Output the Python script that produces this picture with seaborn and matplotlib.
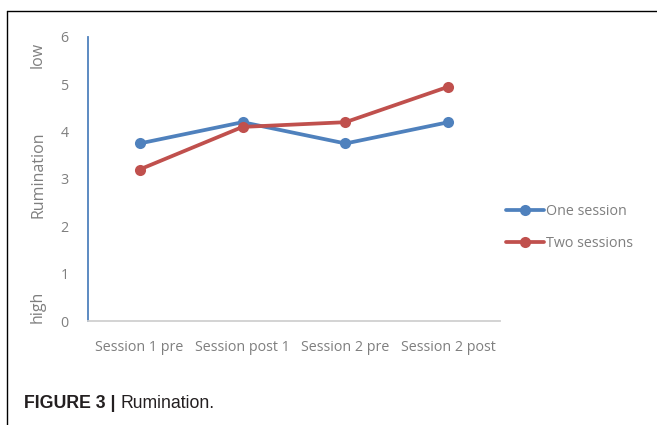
import matplotlib
matplotlib.use("Agg")
import matplotlib.pyplot as plt
from matplotlib.lines import Line2D
import seaborn as sns
import pandas as pd

sessions = ["Session 1 pre", "Session post 1", "Session 2 pre", "Session 2 post"]
one_session = [3.75, 4.2, 3.75, 4.2]
two_sessions = [3.2, 4.1, 4.2, 4.95]
y_ticks = [0, 1, 2, 3, 4, 5, 6]

df = pd.DataFrame({
    "session": sessions * 2,
    "score": one_session + two_sessions,
    "group": ["One session"] * len(sessions) + ["Two sessions"] * len(sessions),
})

sns.set_style("white")
plt.rcParams["font.family"] = ["Open Sans", "DejaVu Sans"]

BLUE = "#4f81bd"
RED = "#c0504d"
GRAY = "#7f7f7f"

fig = plt.figure(figsize=(6.57, 4.25), dpi=100)
ax = fig.add_axes([0.134, 0.2447, 0.627, 0.6683])

sns.lineplot(data=df, x="session", y="score", hue="group",
             palette={"One session": BLUE, "Two sessions": RED},
             marker="o", markersize=8, markeredgewidth=0, linewidth=2.7,
             sort=False, ax=ax)

ax.set_xlim(-0.5, 3.5)
ax.set_ylim(0, 6)
ax.set_yticks(y_ticks)
ax.tick_params(axis="both", length=0, colors=GRAY, labelsize=10.3)
ax.tick_params(axis="x", pad=14)
ax.tick_params(axis="y", pad=14)
ax.set_xlabel("")
ax.set_ylabel("")

for side in ("top", "right"):
    ax.spines[side].set_visible(False)
ax.spines["left"].set_color(BLUE)
ax.spines["left"].set_linewidth(1.3)
ax.spines["bottom"].set_color("#d0d0d0")
ax.spines["bottom"].set_linewidth(1.3)

# axis title with direction markers
fig.text(38 / 657, 1 - 175 / 425, "Rumination", rotation=90, ha="center", va="center",
         color=GRAY, fontsize=11.5)
fig.text(38 / 657, 1 - 55 / 425, "low", rotation=90, ha="center", va="center",
         color=GRAY, fontsize=11.5)
fig.text(38 / 657, 1 - 307 / 425, "high", rotation=90, ha="center", va="center",
         color=GRAY, fontsize=11.5)

leg = ax.legend(loc="center left", bbox_to_anchor=(0.99, 0.33), frameon=False,
                fontsize=10.3, handlelength=2.7, handletextpad=0.1, labelspacing=1.2,
                borderaxespad=0.3)
for t in leg.get_texts():
    t.set_color(GRAY)

# caption
cap_y = 1 - 404 / 425
head = fig.text(24 / 657, cap_y, "FIGURE 3 |", fontsize=12.8, fontweight="bold",
                family="Liberation Sans", color="#231f20", va="center", ha="left")
fig.canvas.draw()
bb = head.get_window_extent()
fig.text((bb.x1 + 5) / 657, cap_y, "Rumination.", fontsize=12.7,
         family="Liberation Sans", color="#231f20", va="center", ha="left")

# outer frame (top and left rules)
fig.add_artist(Line2D([7 / 657, 1.0], [1 - 11 / 425, 1 - 11 / 425], color="black", lw=1.0))
fig.add_artist(Line2D([7 / 657, 7 / 657], [0.0, 1 - 11 / 425], color="black", lw=1.0))

fig.savefig("out.png", dpi=100)
